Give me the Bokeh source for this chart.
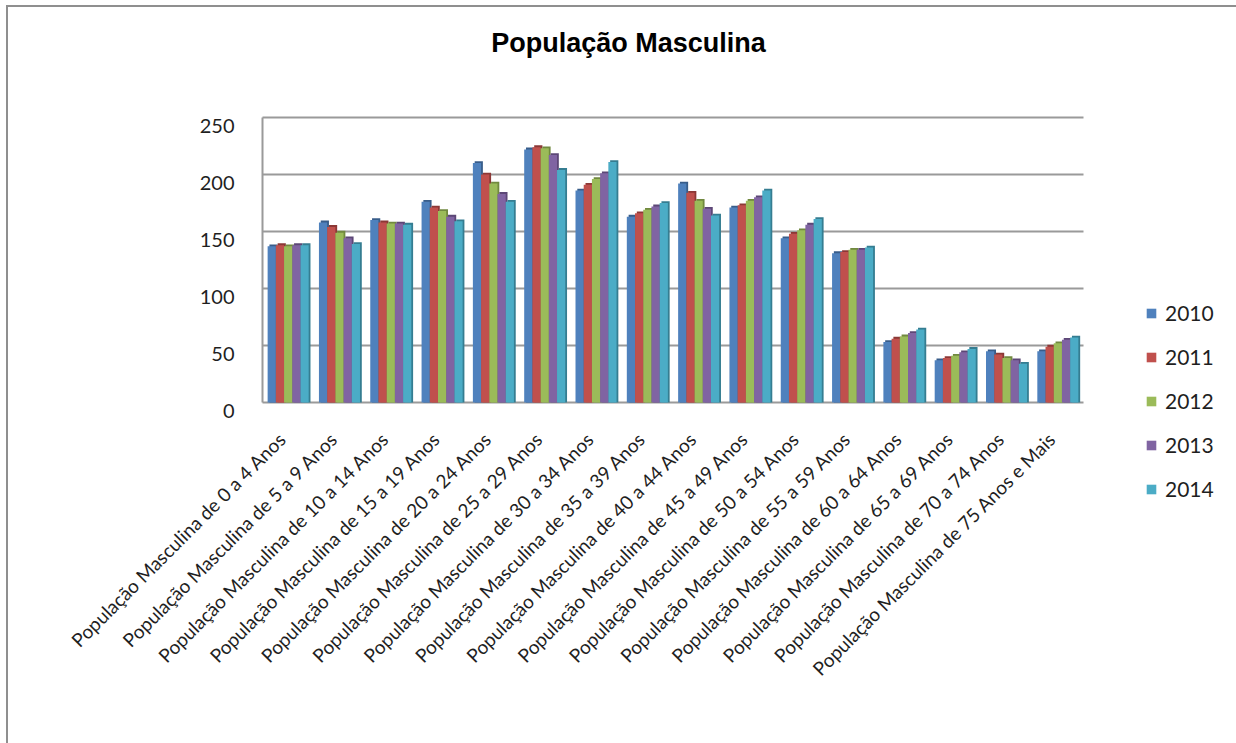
from bokeh.plotting import figure
from bokeh.models import (Range1d, ColumnDataSource, FixedTicker, Legend, LegendItem, Label)
from bokeh.embed import file_html
from bokeh.resources import INLINE
import math

categories = [
    "População Masculina de 0 a 4 Anos",
    "População Masculina de 5 a 9 Anos",
    "População Masculina de 10 a 14 Anos",
    "População Masculina de 15 a 19 Anos",
    "População Masculina de 20 a 24 Anos",
    "População Masculina de 25 a 29 Anos",
    "População Masculina de 30 a 34 Anos",
    "População Masculina de 35 a 39 Anos",
    "População Masculina de 40 a 44 Anos",
    "População Masculina de 45 a 49 Anos",
    "População Masculina de 50 a 54 Anos",
    "População Masculina de 55 a 59 Anos",
    "População Masculina de 60 a 64 Anos",
    "População Masculina de 65 a 69 Anos",
    "População Masculina de 70 a 74 Anos",
    "População Masculina de 75 Anos e Mais",
]
years = ["2010", "2011", "2012", "2013", "2014"]
v2010 = [137, 158, 160, 176, 210, 222, 186, 163, 192, 171, 144, 131, 53, 37, 45, 45]
v2011 = [138, 154, 158, 171, 200, 224, 191, 166, 184, 173, 148, 132, 56, 39, 42, 49]
v2012 = [137, 149, 157, 168, 192, 223, 196, 169, 177, 177, 151, 134, 58, 41, 39, 52]
v2013 = [138, 144, 157, 163, 183, 217, 201, 172, 170, 180, 156, 134, 61, 44, 37, 55]
v2014 = [138, 139, 156, 159, 176, 204, 211, 175, 164, 186, 161, 136, 64, 47, 34, 57]
y_ticks = [0, 50, 100, 150, 200, 250]
title_text = "População Masculina"

colors = ["#4F81BD", "#C0504D", "#9BBB59", "#8064A2", "#4BACC6"]
darks = ["#385D8A", "#8C3836", "#71893F", "#5C4776", "#357D91"]
series = [v2010, v2011, v2012, v2013, v2014]

n = len(categories)
idx = list(range(n))
data = {"cat": categories}
offsets = [-0.32, -0.16, 0.0, 0.16, 0.32]
for y, vals, off in zip(years, series, offsets):
    data["x" + y] = [i + 0.5 + off for i in idx]
    data["xs" + y] = [i + 0.5 + off + 0.035 for i in idx]
    data["y" + y] = vals
    data["s" + y] = [v + 1.6 for v in vals]
source = ColumnDataSource(data)

PX_X = 51.3125   # pixels per category
PX_Y = 1.14      # pixels per unit
SHIFT = 8 / PX_Y  # value labels sit on the 3D front plane, slightly lower

p = figure(x_range=Range1d(-12 / PX_X, 828 / PX_X),
           y_range=Range1d(-25 / PX_Y, 395 / PX_Y),
           frame_width=840, frame_height=420,
           min_border_left=242, min_border_right=146,
           min_border_top=0, min_border_bottom=316,
           output_backend="svg", toolbar_location=None)
p.extra_y_ranges = {"front": Range1d(-25 / PX_Y + SHIFT, 395 / PX_Y + SHIFT)}
p.styles = {"margin-left": "6px", "margin-top": "5px",
            "border-left": "2px solid #8f8f8f", "border-top": "2px solid #8f8f8f"}
p.outline_line_color = None
p.background_fill_color = "white"
p.border_fill_color = "white"
p.xgrid.visible = False
p.ygrid.visible = False

# gridlines / walls (data-driven from tick list)
p.segment(x0=[0] * len(y_ticks), x1=[n] * len(y_ticks), y0=y_ticks, y1=y_ticks,
          line_color="#9a9a9a", line_width=2)
p.segment(x0=[0], x1=[0], y0=[0], y1=[y_ticks[-1]], line_color="#9a9a9a", line_width=2)

ax = p.yaxis[0]
ax.y_range_name = "front"
ax.ticker = FixedTicker(ticks=y_ticks)
ax.major_tick_line_color = None
ax.minor_tick_line_color = None
ax.axis_line_color = None
ax.major_label_text_font = "Lato"
ax.major_label_text_font_size = "20px"
ax.major_label_text_color = "#1f1f1f"
ax.major_label_standoff = 10

label_ticks = [i + 0.383 for i in idx]
xa = p.xaxis[0]
xa.ticker = FixedTicker(ticks=label_ticks)
xa.major_label_overrides = {t: c for t, c in zip(label_ticks, categories)}
xa.major_label_orientation = math.pi / 4
xa.major_tick_line_color = None
xa.minor_tick_line_color = None
xa.axis_line_color = None
xa.major_label_text_font = "Lato"
xa.major_label_text_font_size = "19px"
xa.major_label_text_color = "#1f1f1f"
xa.major_label_standoff = 2

width = 0.16
items = []
for y, c, d in zip(years, colors, darks):
    p.vbar(x="xs" + y, top="s" + y, width=width, source=source,
           fill_color=d, line_color=None)
    r = p.vbar(x="x" + y, top="y" + y, width=width, source=source,
               fill_color=c, line_color=None)
    items.append(LegendItem(label=y, renderers=[r]))

legend = Legend(items=items, location=(55, -74), orientation="vertical",
                label_text_font="Lato", label_text_font_size="21px",
                label_text_color="#1f1f1f", glyph_width=12, glyph_height=12,
                label_standoff=8, spacing=19, padding=10, margin=0,
                border_line_color=None, background_fill_alpha=0)
p.add_layout(legend, "right")

title = Label(x=(628 - 262) / PX_X, y=(402 - 42) / PX_Y, text=title_text,
              text_align="center", text_baseline="middle",
              text_font="Liberation Sans", text_font_style="bold",
              text_font_size="27px", text_color="#000000")
p.add_layout(title)

open("out.html", "w").write(file_html(p, INLINE))
